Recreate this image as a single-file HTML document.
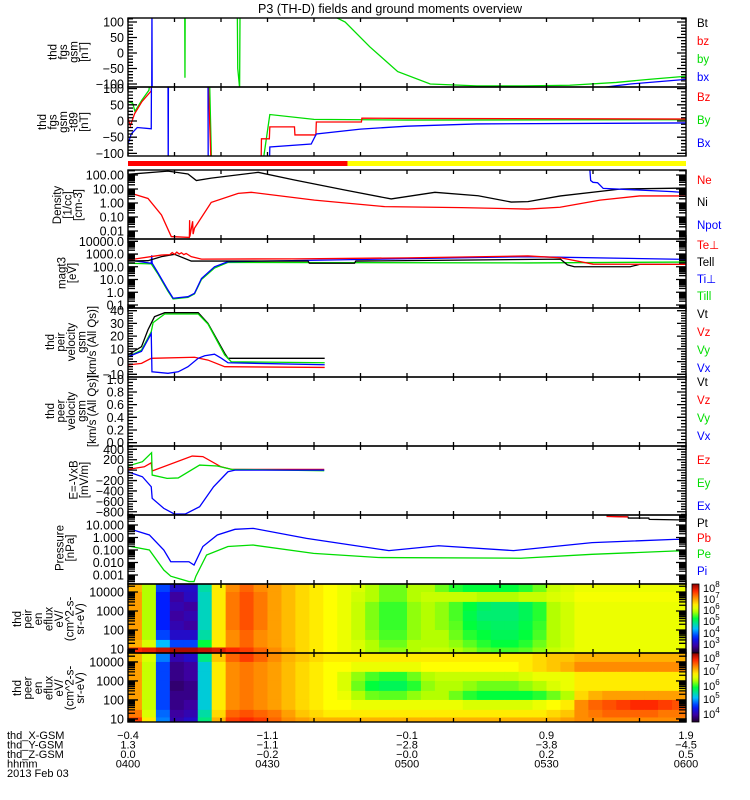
<!DOCTYPE html>
<html><head><meta charset="utf-8"><title>P3 (TH-D) overview</title>
<style>
html,body{margin:0;padding:0;background:#fff;}
svg{display:block;font-family:"Liberation Sans",sans-serif;}
</style></head>
<body>
<svg id="chart" width="750" height="800" viewBox="0 0 750 800" xmlns="http://www.w3.org/2000/svg">
<rect x="0" y="0" width="750" height="800" fill="#fff"/>
<text x="390" y="13" font-size="12.5" text-anchor="middle">P3 (TH-D) fields and ground moments overview</text>
<defs id="defs"></defs>
<g id="layer-spec"></g>
<g id="layer-lines"></g>
<g id="layer-axes"></g>
<g id="layer-text"></g>
</svg>
<script>
// ---------- time axis ----------
const timeTicksMinor = [0,10,20,30,40,50,60,70,80,90,100,110,120];
const bottomRowLabels = ["thd_X-GSM","thd_Y-GSM","thd_Z-GSM","hhmm","2013 Feb 03"];
const bottomTimes = [0,30,60,90,120];
const bottomX = ["-0.4","-1.1","-0.1","0.9","1.9"];
const bottomY = ["1.3","-1.1","-2.8","-3.8","-4.5"];
const bottomZ = ["0.0","-0.2","-0.0","0.2","0.5"];
const bottomHHMM = ["0400","0430","0500","0530","0600"];

// ---------- panel tick arrays ----------
const fgsTicks = [100,50,0,-50,-100];
const fgsTickLabels = ["100","50","0","\u221250","\u2212100"];
const fgmTicks = [100,50,0,-50,-100];
const fgmTickLabels = ["100","50","0","\u221250","\u2212100"];
const denTicks = [100,10,1,0.1,0.01];
const denTickLabels = ["100.00","10.00","1.00","0.10","0.01"];
const tmpTicks = [10000,1000,100,10,1,0.1];
const tmpTickLabels = ["10000.0","1000.0","100.0","10.0","1.0","0.1"];
const velTicks = [40,30,20,10,0,-10];
const velTickLabels = ["40","30","20","10","0","\u221210"];
const peerTicks = [1,0.8,0.6,0.4,0.2,0];
const peerTickLabels = ["1.0","0.8","0.6","0.4","0.2","0.0"];
const efTicks = [400,200,0,-200,-400,-600,-800];
const efTickLabels = ["400","200","0","\u2212200","\u2212400","\u2212600","\u2212800"];
const prTicks = [10,1,0.1,0.01,0.001];
const prTickLabels = ["10.000","1.000","0.100","0.010","0.001"];
const specTicks = [10000,1000,100,10];
const specTickLabels = ["10000","1000","100","10"];

// ---------- fgs series ----------
const fgsByT = [0,12.2,12.25,12.3,23.5,23.6,24.0,24.1,40,46.7,52,58,65,75,85,95,105,112,120];
const fgsByV = [150,150,-80,150,150,-50,-112,150,150,100,20,-60,-100,-106,-106,-104,-95,-85,-75];
const fgsBxT = [0,5.1,5.15,5.2,100,108,120];
const fgsBxV = [-150,-150,150,-150,-115,-100,-85];

// ---------- fgm series ----------
const fgmBzT = [0,0.5,1.4,3,5,5.1,17.2,17.9,28.6,28.7,30.4,30.5,35.8,35.9,40.4,40.5,50.2,50.3,60,120];
const fgmBzV = [10,-15,22,60,93,150,150,-150,-150,-55,-55,-18,-18,-43,-43,-3,-3,9,8,6];
const fgmByT = [0,1,1.5,3,4.5,5,17.5,18,28.5,28.8,30.5,40,60,120];
const fgmByV = [60,55,30,65,95,150,150,-150,-150,-150,20,5,3,4];
const fgmBxT = [0,0.7,2,5,5.05,8.6,8.65,8.7,17.2,17.25,30.4,30.5,39.4,40.5,50,60,75,120];
const fgmBxV = [-71,-40,-20,-24,150,150,-150,150,150,-150,-150,-80,-71,-40,-25,-16,-9,-6];

// ---------- density ----------
const denNiT = [0,8.6,12.9,14.7,17.9,28,35.8,46.6,56.6,66,75.3,82.4,86,93,106,120];
const denNiV = [112,190,117,40,60,155,44,8.5,1.95,5.8,3.3,1.17,1.26,3.2,10,11.7];
const denNeT = [0,4.3,7.2,9.3,13.2,13.25,13.3,13.9,14.0,14.3,17.9,23.7,26.5,40.1,55.2,71.7,86,92.9,101.5,110,120];
const denNeV = [5.8,2.1,0.14,0.004,0.0035,0.06,0.004,0.05,0.006,0.016,1.1,4.9,5.8,1.6,0.55,0.47,0.37,0.5,1.6,3.2,3.2];
const denNpotT = [99.3,99.5,100,101,102.2,117,120];
const denNpotV = [300,40,30,28,11,6.5,5.5];

// ---------- temperature ----------
const tmpTeT = [0,7.2,9,9.5,10,10.5,11,11.5,12,12.5,13.6,15.8,36,60,86,93,100,120];
const tmpTeV = [340,830,900,1300,950,1400,1000,1250,900,1100,620,400,420,500,710,510,160,155];
const tmpTellT = [0,4.3,7.2,10,13.6,21.5,38.7,39,48.7,49,93,94.5,96,108,110,120];
const tmpTellV = [280,300,630,950,280,280,280,190,190,280,400,140,100,100,155,155];
const tmpTiPerpT = [0,5,5.1,5.2,6.5,8.6,9.7,12.9,14.3,15.8,18.6,21.5,86,120];
const tmpTiPerpV = [340,190,800,190,31,1.5,0.34,0.45,0.83,12,100,250,620,380];
const tmpTiParT = [0,5,6.5,8.6,9.7,12.9,14.3,15.8,18.6,21.5,86,120];
const tmpTiParV = [190,170,25,1.2,0.3,0.4,0.75,10,80,220,200,235];

// ---------- velocity ----------
const velVtT = [0,2.9,4.3,5.7,7.9,15.1,17.2,20.8,21.5,42.3];
const velVtV = [5.2,11.7,25,35.3,38.4,38.4,30,6.5,2.6,2.6];
const velVzT = [0,2.9,5,14.3,17.2,20.8,42.3];
const velVzV = [-2.7,-1.4,2.6,3.4,1.2,-4,-4.6];
const velVyT = [0,2.9,5,5.4,7.9,15.1,17.2,20.8,22.2,42.3];
const velVyV = [3.8,9,23.5,30.6,37.4,37.4,29.5,5.2,-0.1,-0.9];
const velVxT = [0,2.9,5,5.15,8.6,10.8,12.9,15.1,16.5,18.6,20.1,21.5,42.3];
const velVxV = [3.8,8,22,-8,-9.2,-8,-4,2.6,4.6,5.8,2.6,-0.9,-2.5];

// ---------- E = -VxB ----------
const efEzT = [0,3.5,5,5.2,13.8,16.1,20,22.3,42.2];
const efEzV = [15,65,142,-17,271,260,65,15,15];
const efEyT = [0,3.1,5.07,5.2,8.4,10.8,15.4,19.2,22.3,42.2];
const efEyV = [79,162,335,-94,-158,-150,98,79,15,-10];
const efExT = [0,3.1,5,5.2,7.7,10,12.3,15.4,18.4,21.5,23,42.2];
const efExV = [-31,-127,-319,-542,-735,-844,-844,-703,-319,-31,0,0];

// ---------- pressure ----------
const prPiT = [0,4.6,7.7,9.2,13.1,14.2,16.1,19.2,23,26.9,38.4,56.1,66.8,82.9,99.8,117.5,120];
const prPiV = [5.4,1.6,0.1,0.0115,0.0115,0.0063,0.19,1.6,4.5,5.4,0.85,0.089,0.22,0.089,0.39,0.71,0.71];
const prPeT = [0,4.6,7.7,9.2,13.1,14.2,14.6,16.9,21.5,26.9,39.9,53.8,84.5,99.8,117.5,120];
const prPeV = [0.21,0.1,0.0025,0.0008,0.0003,0.0003,0.0008,0.04,0.19,0.25,0.054,0.025,0.022,0.045,0.083,0.083];
const prPtT = [102.9,107.5,107.6,112,112.1,120];
const prPtV = [50,45,36,36,28,25];
const prPbT = [102.9,107.5];
const prPbV = [48,44];

// ---------- spectrograms (8 energy rows x 40 time bins of 3 min, normalized log flux) ----------
const specBinMinutes = 3;
const ionEnergyEdges = [26000,10000,3000,1000,300,100,30,12,6.2];
const eleEnergyEdges = [29500,10000,3000,1000,300,100,30,12,6.9];
const ionFlux = [
[0.76,0.6,0.25,0.15,0.15,0.42,0.7,0.8,0.84,0.8,0.78,0.75,0.72,0.7,0.68,0.66,0.64,0.6,0.56,0.56,0.6,0.6,0.56,0.52,0.5,0.5,0.5,0.5,0.52,0.56,0.62,0.64,0.66,0.66,0.66,0.66,0.66,0.66,0.66,0.66],
[0.78,0.6,0.22,0.1,0.14,0.4,0.7,0.82,0.86,0.82,0.78,0.75,0.72,0.7,0.68,0.66,0.63,0.6,0.56,0.56,0.6,0.62,0.62,0.62,0.62,0.6,0.6,0.6,0.62,0.62,0.64,0.65,0.67,0.67,0.67,0.67,0.67,0.67,0.67,0.67],
[0.78,0.6,0.22,0.12,0.1,0.4,0.7,0.82,0.86,0.82,0.78,0.75,0.72,0.7,0.68,0.66,0.62,0.57,0.53,0.53,0.58,0.6,0.58,0.54,0.5,0.47,0.46,0.46,0.48,0.52,0.6,0.63,0.66,0.66,0.66,0.66,0.66,0.66,0.66,0.66],
[0.78,0.6,0.22,0.1,0.12,0.4,0.7,0.82,0.86,0.82,0.78,0.75,0.72,0.7,0.68,0.66,0.62,0.57,0.53,0.53,0.58,0.6,0.58,0.54,0.49,0.46,0.46,0.46,0.48,0.52,0.6,0.63,0.66,0.66,0.66,0.66,0.66,0.66,0.66,0.66],
[0.78,0.6,0.22,0.12,0.1,0.4,0.7,0.82,0.86,0.82,0.78,0.75,0.72,0.7,0.68,0.66,0.62,0.57,0.53,0.53,0.58,0.6,0.58,0.55,0.5,0.48,0.47,0.47,0.49,0.53,0.6,0.63,0.66,0.66,0.66,0.66,0.66,0.66,0.66,0.66],
[0.78,0.6,0.25,0.15,0.15,0.42,0.7,0.8,0.84,0.8,0.78,0.75,0.72,0.7,0.68,0.66,0.62,0.58,0.54,0.54,0.58,0.6,0.6,0.56,0.52,0.5,0.48,0.48,0.5,0.54,0.6,0.63,0.66,0.66,0.66,0.66,0.66,0.66,0.66,0.66],
[0.76,0.64,0.35,0.25,0.25,0.5,0.7,0.8,0.84,0.8,0.78,0.75,0.72,0.7,0.68,0.66,0.64,0.6,0.56,0.56,0.6,0.6,0.6,0.58,0.55,0.52,0.5,0.5,0.52,0.56,0.6,0.63,0.66,0.66,0.66,0.66,0.66,0.66,0.66,0.66],
[0.9,0.92,0.95,0.97,0.97,0.95,0.93,0.9,0.88,0.84,0.8,0.76,0.72,0.7,0.68,0.66,0.64,0.6,0.58,0.58,0.6,0.62,0.62,0.6,0.58,0.55,0.54,0.54,0.55,0.58,0.62,0.64,0.66,0.66,0.66,0.66,0.66,0.66,0.66,0.66]
];
const eleFlux = [
[0.76,0.64,0.3,0.12,0.15,0.45,0.74,0.84,0.88,0.84,0.8,0.76,0.74,0.72,0.7,0.7,0.7,0.7,0.7,0.7,0.7,0.7,0.7,0.7,0.7,0.7,0.7,0.7,0.7,0.72,0.74,0.74,0.76,0.76,0.76,0.76,0.76,0.76,0.76,0.76],
[0.78,0.62,0.25,0.08,0.1,0.38,0.7,0.8,0.82,0.8,0.78,0.75,0.72,0.7,0.68,0.68,0.66,0.66,0.66,0.66,0.66,0.68,0.68,0.68,0.68,0.68,0.68,0.68,0.7,0.72,0.74,0.76,0.8,0.8,0.8,0.8,0.8,0.8,0.8,0.8],
[0.78,0.62,0.25,0.08,0.1,0.38,0.7,0.8,0.82,0.8,0.78,0.75,0.72,0.7,0.68,0.64,0.58,0.54,0.52,0.52,0.56,0.6,0.62,0.62,0.62,0.62,0.62,0.62,0.64,0.66,0.66,0.66,0.7,0.7,0.7,0.7,0.7,0.7,0.7,0.7],
[0.78,0.62,0.25,0.06,0.08,0.38,0.7,0.8,0.82,0.8,0.78,0.75,0.72,0.7,0.68,0.64,0.56,0.5,0.48,0.48,0.52,0.58,0.6,0.6,0.58,0.56,0.56,0.56,0.58,0.6,0.64,0.66,0.7,0.7,0.7,0.7,0.7,0.7,0.7,0.7],
[0.78,0.62,0.25,0.08,0.08,0.38,0.7,0.8,0.82,0.8,0.78,0.75,0.72,0.7,0.68,0.66,0.6,0.56,0.55,0.55,0.58,0.6,0.6,0.56,0.52,0.5,0.5,0.5,0.5,0.52,0.56,0.6,0.72,0.76,0.78,0.78,0.78,0.78,0.78,0.78],
[0.78,0.62,0.25,0.08,0.1,0.38,0.7,0.8,0.82,0.8,0.78,0.75,0.72,0.7,0.68,0.68,0.66,0.66,0.66,0.66,0.66,0.66,0.66,0.66,0.64,0.64,0.64,0.64,0.64,0.66,0.68,0.7,0.8,0.84,0.86,0.88,0.9,0.9,0.88,0.86],
[0.82,0.64,0.28,0.1,0.12,0.42,0.72,0.84,0.86,0.84,0.82,0.78,0.74,0.72,0.7,0.7,0.7,0.7,0.7,0.7,0.7,0.7,0.7,0.7,0.7,0.7,0.7,0.7,0.7,0.7,0.72,0.74,0.8,0.82,0.84,0.84,0.84,0.84,0.82,0.82],
[0.88,0.7,0.3,0.12,0.15,0.45,0.76,0.88,0.9,0.88,0.84,0.8,0.78,0.76,0.76,0.76,0.76,0.76,0.76,0.76,0.76,0.76,0.76,0.76,0.76,0.76,0.76,0.76,0.76,0.76,0.76,0.78,0.8,0.8,0.8,0.8,0.8,0.8,0.8,0.8]
];

// ---------- layout ----------
const SVGNS = "http://www.w3.org/2000/svg";
const X0 = 128, X1 = 686, T0 = 0, T1 = 120;
function xs(t){ return X0 + (t - T0) / (T1 - T0) * (X1 - X0); }
const panels = {
  fgs:{top:18,bot:87,log:false,min:-109.7,max:112.9,minor:10},
  fgm:{top:87,bot:156,log:false,min:-108,max:105,minor:10},
  den:{top:170,bot:239,log:true,min:-2.571,max:2.357},
  tmp:{top:239,bot:308,log:true,min:-1.235,max:4.18},
  vel:{top:308,bot:377,log:false,min:-12.1,max:42.1,minor:2},
  peer:{top:377,bot:446,log:false,min:-0.052,max:1.036,minor:0.05},
  ef:{top:446,bot:515,log:false,min:-862,max:464,minor:50},
  pr:{top:515,bot:584,log:true,min:-3.72,max:1.8},
  ion:{top:584,bot:653,log:true,min:0.79,max:4.42},
  ele:{top:653,bot:722,log:true,min:0.84,max:4.47}
};
function ys(p, v){
  const P = panels[p];
  const u = P.log ? Math.log10(Math.max(v, 1e-12)) : v;
  return P.top + (P.max - u) / (P.max - P.min) * (P.bot - P.top);
}
function mk(tag, attrs, parent){
  const e = document.createElementNS(SVGNS, tag);
  for (const k in attrs) e.setAttribute(k, attrs[k]);
  if (parent) parent.appendChild(e);
  return e;
}
const gSpec = document.getElementById('layer-spec');
const gLines = document.getElementById('layer-lines');
const gAxes = document.getElementById('layer-axes');
const gText = document.getElementById('layer-text');
const defs = document.getElementById('defs');

for (const p in panels){
  const P = panels[p];
  const cp = mk('clipPath', {id:'clip-'+p}, defs);
  mk('rect', {x:X0, y:P.top, width:X1-X0, height:P.bot-P.top}, cp);
}

// ---------- colormap ----------
const cmapStops = [[0,[32,0,40]],[0.1,[60,0,160]],[0.22,[0,30,255]],[0.35,[0,190,255]],[0.5,[0,255,60]],[0.6,[180,255,0]],[0.68,[255,255,0]],[0.8,[255,140,0]],[0.9,[255,40,0]],[1,[140,0,0]]];
function cmap(v){
  v = Math.max(0, Math.min(1, v));
  for (let i = 1; i < cmapStops.length; i++){
    if (v <= cmapStops[i][0]){
      const a = cmapStops[i-1], b = cmapStops[i];
      const f = (v - a[0]) / (b[0] - a[0]);
      const c = a[1].map((x, k) => Math.round(x + (b[1][k] - x) * f));
      return 'rgb(' + c.join(',') + ')';
    }
  }
  return 'rgb(140,0,0)';
}

// ---------- spectrograms ----------
function drawSpec(p, edges, flux, label){
  const g = mk('g', {'clip-path':'url(#clip-'+p+')'}, gSpec);
  
  
  for (let r = 0; r < flux.length; r++){
    const yTop = ys(p, edges[r]), yBot = ys(p, edges[r+1]);
    for (let c = 0; c < flux[r].length; c++){
      const xa = xs(c * specBinMinutes), xb = xs((c + 1) * specBinMinutes);
      const cell = mk('rect', {x:xa.toFixed(2), y:yTop.toFixed(2), width:(xb-xa+0.6).toFixed(2), height:(yBot-yTop+0.6).toFixed(2), fill:cmap(flux[r][c])}, g);
      
      
    }
  }
}
drawSpec('ion', ionEnergyEdges, ionFlux, 'ion-eflux');
drawSpec('ele', eleEnergyEdges, eleFlux, 'electron-eflux');

// colorbars
const grad = mk('linearGradient', {id:'cbgrad', x1:0, y1:1, x2:0, y2:0}, defs);
for (let i = 0; i <= 20; i++){ mk('stop', {offset:(i/20), 'stop-color':cmap(i/20)}, grad); }
[['ion',584,653],['ele',653,722]].forEach(([nm,t,b]) => {
  const cb = mk('rect', {x:692, y:t, width:7, height:b-t, fill:'url(#cbgrad)', stroke:'#000', 'stroke-width':0.8}, gAxes);
  
  
});
const cbIonExp = ['8','7','6','5','4','3'];
const cbIonY = [588,599,610,621,633,644];
const cbEleExp = ['8','7','6','5','4'];
const cbEleY = [658,671,686,699,714];
function cbLabels(exps, yy, nm){
  exps.forEach((e, i) => {
    const t = mk('text', {x:703, y:yy[i]+4, 'font-size':11}, gText);
    
    
    t.textContent = '10';
    const s = mk('tspan', {'font-size':8, dy:-5}, t);
    s.textContent = e;
  });
}
cbLabels(cbIonExp, cbIonY, 'ion');
cbLabels(cbEleExp, cbEleY, 'electron');

// ---------- state bar ----------
const barSplitT = 47.2;
const rb = mk('rect', {x:X0, y:161, width:xs(barSplitT)-X0, height:5, fill:'#ff0000'}, gSpec);


const yb = mk('rect', {x:xs(barSplitT), y:161, width:X1-xs(barSplitT), height:5, fill:'#ffff00'}, gSpec);



// ---------- line series ----------
const series = [
  ['fgs','fgs-by','#00dd00',fgsByT,fgsByV],
  ['fgs','fgs-bx','#0000ff',fgsBxT,fgsBxV],
  ['fgm','fgm-by','#00dd00',fgmByT,fgmByV],
  ['fgm','fgm-bz','#ff0000',fgmBzT,fgmBzV],
  ['fgm','fgm-bx','#0000ff',fgmBxT,fgmBxV],
  ['den','density-ni','#000000',denNiT,denNiV],
  ['den','density-ne','#ff0000',denNeT,denNeV],
  ['den','density-npot','#0000ff',denNpotT,denNpotV],
  ['tmp','temp-ti-par','#00dd00',tmpTiParT,tmpTiParV],
  ['tmp','temp-ti-perp','#0000ff',tmpTiPerpT,tmpTiPerpV],
  ['tmp','temp-te-par','#000000',tmpTellT,tmpTellV],
  ['tmp','temp-te-perp','#ff0000',tmpTeT,tmpTeV],
  ['vel','velocity-vt','#000000',velVtT,velVtV],
  ['vel','velocity-vy','#00dd00',velVyT,velVyV],
  ['vel','velocity-vz','#ff0000',velVzT,velVzV],
  ['vel','velocity-vx','#0000ff',velVxT,velVxV],
  ['ef','efield-ez','#ff0000',efEzT,efEzV],
  ['ef','efield-ey','#00dd00',efEyT,efEyV],
  ['ef','efield-ex','#0000ff',efExT,efExV],
  ['pr','pressure-pi','#0000ff',prPiT,prPiV],
  ['pr','pressure-pe','#00dd00',prPeT,prPeV],
  ['pr','pressure-pt','#000000',prPtT,prPtV],
  ['pr','pressure-pb','#ff0000',prPbT,prPbV]
];
series.forEach(([p, nm, col, T, V]) => {
  const pts = T.map((t, i) => xs(t).toFixed(2) + ',' + ys(p, V[i]).toFixed(2)).join(' ');
  const pl = mk('polyline', {points:pts, fill:'none', stroke:col, 'stroke-width':1.3, 'clip-path':'url(#clip-'+p+')'}, gLines);
  
  
});

// ---------- axes, ticks ----------
const tickSpec = {
  fgs:[fgsTicks,fgsTickLabels], fgm:[fgmTicks,fgmTickLabels], den:[denTicks,denTickLabels],
  tmp:[tmpTicks,tmpTickLabels], vel:[velTicks,velTickLabels], peer:[peerTicks,peerTickLabels],
  ef:[efTicks,efTickLabels], pr:[prTicks,prTickLabels], ion:[specTicks,specTickLabels], ele:[specTicks,specTickLabels]
};
for (const p in panels){
  const P = panels[p];
  const fr = mk('rect', {x:X0, y:P.top, width:X1-X0, height:P.bot-P.top, fill:'none', stroke:'#000', 'stroke-width':1.4}, gAxes);
  
  
  let d = '';
  timeTicksMinor.forEach(t => {
    const x = xs(t).toFixed(1);
    d += 'M' + x + ' ' + P.top + 'v4M' + x + ' ' + P.bot + 'v-4';
  });
  if (P.log){
    for (let k = Math.floor(P.min) - 1; k <= Math.ceil(P.max); k++){
      for (let m = 1; m <= 9; m++){
        const v = m * Math.pow(10, k);
        const y = ys(p, v);
        if (y < P.top - 0.1 || y > P.bot + 0.1) continue;
        const L = (m === 1) ? 10 : 7;
        d += 'M' + X0 + ' ' + y.toFixed(2) + 'h' + L + 'M' + X1 + ' ' + y.toFixed(2) + 'h-' + L;
      }
    }
  } else {
    const st = P.minor;
    for (let v = Math.ceil(P.min / st) * st; v <= P.max + 1e-9; v += st){
      const y = ys(p, v);
      const isMaj = tickSpec[p][0].some(tv => Math.abs(tv - v) < st * 0.01);
      const L = isMaj ? 9 : 5;
      d += 'M' + X0 + ' ' + y.toFixed(2) + 'h' + L + 'M' + X1 + ' ' + y.toFixed(2) + 'h-' + L;
    }
  }
  const tk = mk('path', {d:d, stroke:'#000', 'stroke-width':1.3, fill:'none'}, gAxes);
  
  
  const [vals, labs] = tickSpec[p];
  vals.forEach((v, i) => {
    const t = mk('text', {x:124, y:(ys(p, v) + 4.5).toFixed(1), 'font-size':12.5, 'text-anchor':'end'}, gText);
    
    
    t.textContent = labs[i];
  });
}

// ---------- panel titles (rotated) ----------
const panelTitles = [
  [52, ['thd','fgs','gsm','[nT]'], 88],
  [122, ['thd','fgs','gsm','-t89','[nT]'], 88],
  [205, ['Density','[1/cc]','[cm-3]'], 82],
  [273, ['magt3','[eV]'], 76],
  [342, ['thd','peir','velocity','gsm','[km/s (All Qs)]'], 96],
  [411, ['thd','peer','velocity','gsm','[km/s (All Qs)]'], 96],
  [480, ['E=-VxB','[mV/m]'], 88],
  [548, ['Pressure','[nPa]'], 74],
  [619, ['thd','peir','en','eflux','eV/','(cm^2-s-','sr-eV)'], 84],
  [688, ['thd','peer','en','eflux','eV/','(cm^2-s-','sr-eV)'], 84]
];
panelTitles.forEach(([cy, lines, lastX]) => {
  const n = lines.length;
  lines.forEach((ln, i) => {
    const x = lastX - (n - 1 - i) * 10.5;
    const t = mk('text', {x:x, y:cy, 'font-size':11.5, 'text-anchor':'middle', transform:'rotate(-90 ' + x + ' ' + cy + ')'}, gText);
    
    
    t.textContent = ln;
  });
});

// ---------- right legends ----------
const legendEntries = [
  ['Bt','#000',23],['bz','#f00',41],['by','#0d0',59],['bx','#00f',77],
  ['Bz','#f00',97],['By','#0d0',120],['Bx','#00f',143],
  ['Ne','#f00',180],['Ni','#000',202],['Npot','#00f',225],
  ['Te\u22a5','#f00',245],['Tell','#000',262],['Ti\u22a5','#00f',279],['Till','#0d0',296],
  ['Vt','#000',314],['Vz','#f00',332],['Vy','#0d0',350],['Vx','#00f',368],
  ['Vt','#000',382],['Vz','#f00',400],['Vy','#0d0',418],['Vx','#00f',436],
  ['Ez','#f00',460],['Ey','#0d0',483],['Ex','#00f',506],
  ['Pt','#000',523],['Pb','#f00',538],['Pe','#0d0',554],['Pi','#00f',571]
];
legendEntries.forEach(([lab, col, y]) => {
  const t = mk('text', {x:697, y:y + 4, 'font-size':11.5, fill:col}, gText);
  
  
  t.textContent = lab;
});

// ---------- bottom labels ----------
const rowY = [739, 748.5, 758, 767.5, 777];
bottomRowLabels.forEach((lab, i) => {
  const t = mk('text', {x:7, y:rowY[i], 'font-size':11}, gText);
  
  
  t.textContent = lab;
});
const bottomCols = [bottomX, bottomY, bottomZ, bottomHHMM];
bottomTimes.forEach((tm, j) => {
  bottomCols.forEach((col, i) => {
    const t = mk('text', {x:xs(tm), y:rowY[i], 'font-size':11, 'text-anchor':'middle'}, gText);
    
    
    t.textContent = col[j].replace('-', '\u2212');
  });
});
</script>
</body></html>
